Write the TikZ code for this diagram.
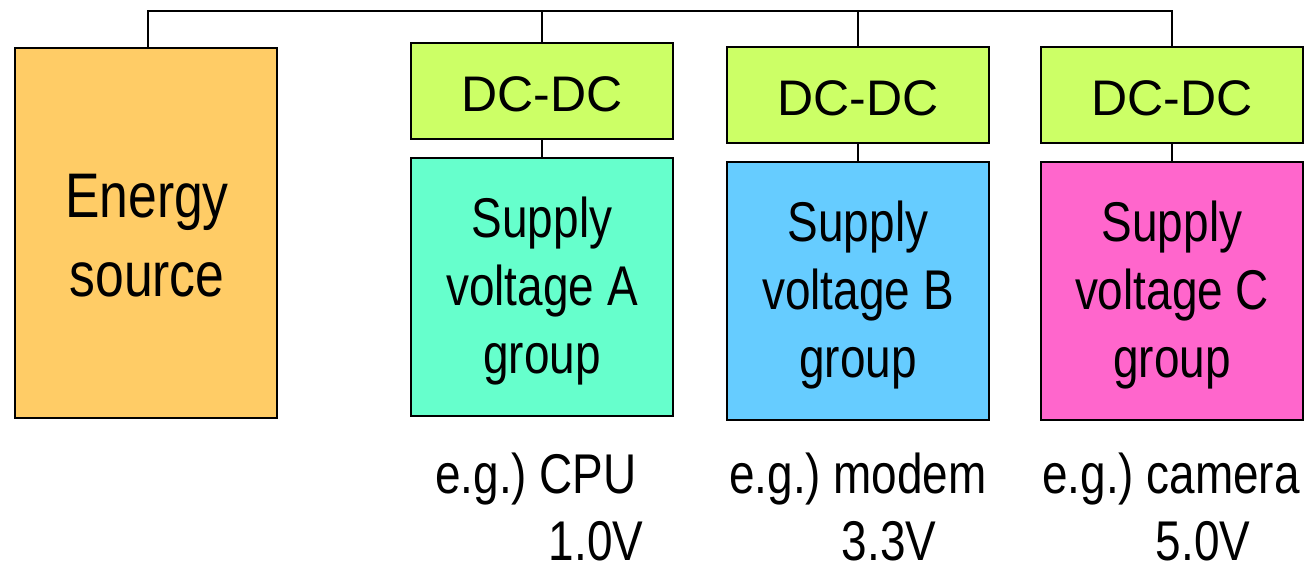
\documentclass[tikz,border=0pt]{standalone}
\usepackage{fontspec}
\setmainfont{Liberation Sans}
\newfontfamily\narrow[FakeStretch=0.82]{Liberation Sans}
\definecolor{energyc}{HTML}{FFCC66}
\definecolor{dcc}{HTML}{CCFF66}
\definecolor{grpA}{HTML}{66FFCC}
\definecolor{grpB}{HTML}{66CCFF}
\definecolor{grpC}{HTML}{FF66CC}
\begin{document}
\begin{tikzpicture}[x=1pt,y=-1pt,
  box/.style={draw=black,line width=2pt,inner sep=0pt,outer sep=0pt,anchor=north west},
  dcbox/.style={box,fill=dcc,minimum width=262pt,minimum height=96pt},
  grpbox/.style={box,minimum width=262pt,minimum height=258pt},
  dctext/.style={inner sep=0pt,font=\fontsize{50}{56}\selectfont},
  grptext/.style={inner sep=0pt,align=center,font=\narrow\fontsize{56}{68}\selectfont},
  lbl/.style={inner sep=0pt,anchor=base,font=\narrow\fontsize{56}{60}\selectfont},
  wire/.style={line width=2pt}]
\useasboundingbox (0,0) rectangle (1305,568);
\node[box,fill=energyc,minimum width=262pt,minimum height=370pt] (en) at (15,48) {};
\node[inner sep=0pt,align=center,font=\narrow\fontsize{63}{79}\selectfont] (entext) at (147,236) {Energy\\source};
\node[dcbox] (dcA) at (411,43) {};
\node[dcbox] (dcB) at (727,47) {};
\node[dcbox] (dcC) at (1041,47) {};
\node[dctext] (dtA) at ([yshift=-3pt]dcA.center) {DC-DC};
\node[dctext] (dtB) at ([yshift=-3pt]dcB.center) {DC-DC};
\node[dctext] (dtC) at ([yshift=-3pt]dcC.center) {DC-DC};
\node[grpbox,fill=grpA] (gA) at (411,158) {};
\node[grpbox,fill=grpB] (gB) at (727,162) {};
\node[grpbox,fill=grpC] (gC) at (1041,162) {};
\node[grptext] (tA) at ([yshift=-4pt]gA.center) {Supply\\voltage A\\group};
\node[grptext] (tB) at ([yshift=-4pt]gB.center) {Supply\\voltage B\\group};
\node[grptext] (tC) at ([yshift=-4pt]gC.center) {Supply\\voltage C\\group};
\coordinate (bus) at (148,11);
\draw[wire] (148,48) -- (bus) -| (dcC.north);
\draw[wire] (dcA.north) -- (dcA.north |- bus);
\draw[wire] (dcB.north) -- (dcB.north |- bus);
\draw[wire] (dcA.south) -- (gA.north);
\draw[wire] (dcB.south) -- (gB.north);
\draw[wire] (dcC.south) -- (gC.north);
\node[lbl] (lA1) at (536,493) {e.g.)\hspace{-0.08em} CPU};
\node[lbl] (lA2) at (596,560) {1.0V};
\node[lbl] (lB1) at (858,493) {e.g.)\hspace{-0.08em} modem};
\node[lbl] (lB2) at (889,560) {3.3V};
\node[lbl] (lC1) at (1171,493) {e.g.)\hspace{-0.08em} camera};
\node[lbl] (lC2) at (1203,560) {5.0V};
\end{tikzpicture}
\end{document}
